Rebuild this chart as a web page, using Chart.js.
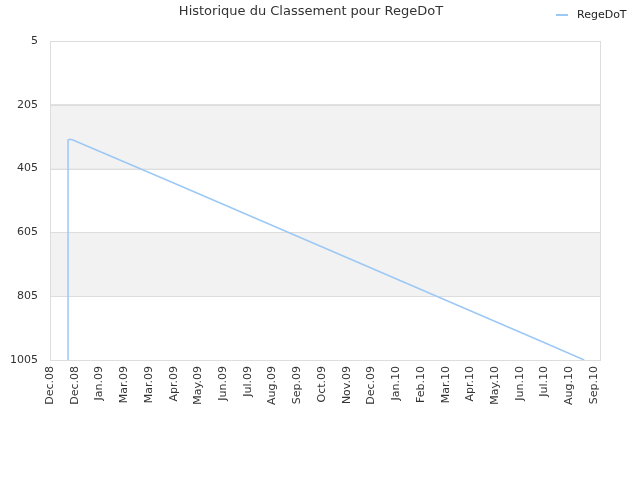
<!DOCTYPE html>
<html>
<head>
<meta charset="utf-8">
<script src="https://cdn.jsdelivr.net/npm/chart.js@4/dist/chart.umd.min.js"></script>
<style>
  html, body { margin: 0; padding: 0; background: #fff; }
  #wrap { width: 640px; height: 480px; }
</style>
</head>
<body>
<div id="wrap"><canvas id="rankChart" width="640" height="480"></canvas></div>
<script>
// tick labels along the bottom (one per step on the x scale)
const monthLabels = ['Dec.08', 'Dec.08', 'Jan.09', 'Mar.09', 'Mar.09', 'Apr.09', 'May.09', 'Jun.09',
  'Jul.09', 'Aug.09', 'Sep.09', 'Oct.09', 'Nov.09', 'Dec.09', 'Jan.10', 'Feb.10', 'Mar.10',
  'Apr.10', 'May.10', 'Jun.10', 'Jul.10', 'Aug.10', 'Sep.10'];
// position of each reading, in tick steps
const rankX = [0.73, 0.73, 0.82, 0.95, 5.0, 10.0, 15.0, 20.0, 21.6];
// rank
const rankY = [1005, 315, 313, 316, 450, 617, 784, 951, 1005];
const yTicks = [5, 205, 405, 605, 805, 1005];
const bands = [[205, 405], [605, 805]];

const lineColor = '#9cc8f5';
const fontFamily = '"DejaVu Sans", Verdana, sans-serif';

const bandsPlugin = {
  id: 'bands',
  beforeDatasetsDraw(chart) {
    const { ctx, chartArea, scales } = chart;
    ctx.save();
    ctx.fillStyle = '#f2f2f2';
    bands.forEach(([a, b]) => {
      const y1 = scales.y.getPixelForValue(a);
      const y2 = scales.y.getPixelForValue(b);
      ctx.fillRect(chartArea.left, Math.min(y1, y2), chartArea.right - chartArea.left, Math.abs(y2 - y1));
    });
    // redraw grid lines on top of the bands
    ctx.strokeStyle = '#dddddd';
    ctx.lineWidth = 1;
    yTicks.forEach((t) => {
      const y = Math.round(scales.y.getPixelForValue(t)) + 0.5;
      ctx.beginPath();
      ctx.moveTo(chartArea.left, y);
      ctx.lineTo(chartArea.right, y);
      ctx.stroke();
    });
    ctx.beginPath();
    ctx.moveTo(Math.round(chartArea.left) + 0.5, chartArea.top);
    ctx.lineTo(Math.round(chartArea.left) + 0.5, chartArea.bottom);
    ctx.moveTo(Math.round(chartArea.right) + 0.5, chartArea.top);
    ctx.lineTo(Math.round(chartArea.right) + 0.5, chartArea.bottom);
    ctx.stroke();
    ctx.restore();
  },
  afterDraw(chart) {
    const { ctx } = chart;
    ctx.save();
    ctx.fillStyle = '#333333';
    ctx.font = '13px ' + fontFamily;
    ctx.textAlign = 'center';
    ctx.textBaseline = 'middle';
    ctx.fillText('Historique du Classement pour RegeDoT', 311, 12);
    // legend
    ctx.strokeStyle = lineColor;
    ctx.lineWidth = 2;
    ctx.beginPath();
    ctx.moveTo(556, 15);
    ctx.lineTo(568, 15);
    ctx.stroke();
    ctx.font = '11px ' + fontFamily;
    ctx.textAlign = 'left';
    ctx.fillStyle = '#222222';
    ctx.fillText(chart.data.datasets[0].label, 577, 15);
    ctx.restore();
  }
};

new Chart(document.getElementById('rankChart'), {
  type: 'line',
  data: {
    datasets: [{
      label: 'RegeDoT',
      data: rankX.map((x, i) => ({ x: x, y: rankY[i] })),
      borderColor: lineColor,
      borderWidth: 1.5,
      pointRadius: 0,
      tension: 0,
      fill: false,
    }]
  },
  options: {
    responsive: false,
    animation: false,
    layout: { padding: { top: 41, right: 40, left: 0, bottom: 0 } },
    scales: {
      x: {
        type: 'linear',
        min: 0,
        max: 22.24,
        afterFit: (scale) => { scale.height = 120; },
        afterBuildTicks: (scale) => { scale.ticks = monthLabels.map((_, i) => ({ value: i })); },
        grid: { display: false, drawTicks: false },
        border: { display: true, color: '#dddddd' },
        ticks: {
          autoSkip: false,
          maxRotation: 90,
          minRotation: 90,
          padding: 6,
          color: '#333333',
          font: { family: fontFamily, size: 11 },
          callback: (value) => monthLabels[value] ?? '',
        }
      },
      y: {
        reverse: true,
        min: 5,
        max: 1005,
        afterFit: (scale) => { scale.width = 50; },
        afterBuildTicks: (scale) => { scale.ticks = yTicks.map((v) => ({ value: v })); },
        grid: { color: '#dddddd', drawTicks: false },
        border: { display: true, color: '#dddddd' },
        ticks: {
          padding: 12,
          color: '#333333',
          font: { family: fontFamily, size: 11 },
          callback: (value) => String(value),
        }
      }
    },
    plugins: {
      legend: { display: false },
      title: { display: false },
      tooltip: { enabled: false }
    }
  },
  plugins: [bandsPlugin]
});
</script>
</body>
</html>
